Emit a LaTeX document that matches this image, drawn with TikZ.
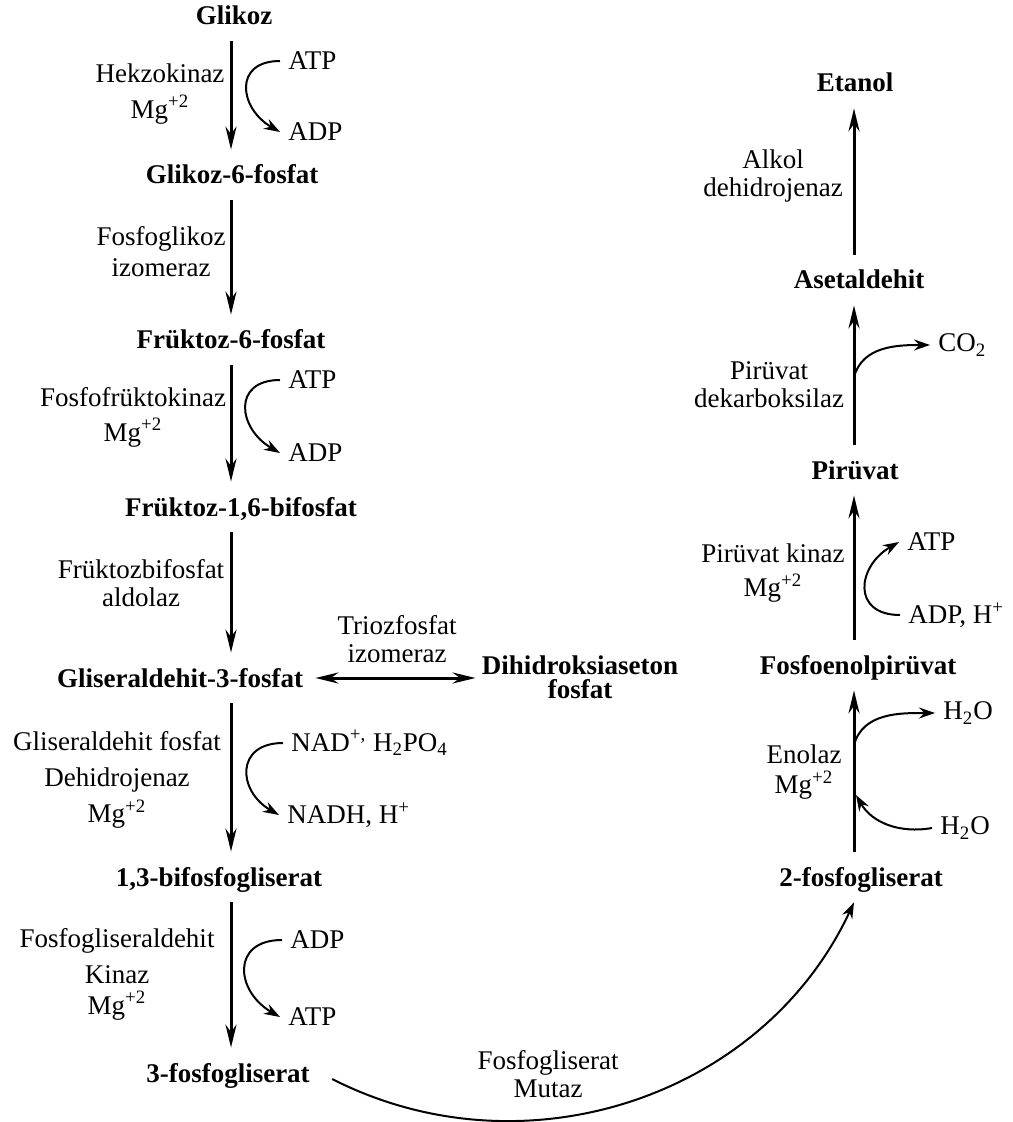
\documentclass[tikz,border=0pt]{standalone}
\usepackage{fontspec}
\setmainfont{Liberation Serif}
\usetikzlibrary{arrows, arrows.meta}
\newcommand{\diagfont}{\fontsize{13.5}{14}\selectfont}
\tikzstyle{metabolite} = [font=\diagfont\bfseries,
text height=9.5pt,
text depth=0.5pt,
inner xsep=3pt,
inner ysep=7.5pt]
\tikzstyle{metabolite2} = [font=\diagfont\bfseries,
align=center,
inner sep=3pt]
\tikzstyle{enzyme} = [font=\diagfont,
align=center,
inner sep=0pt]
\tikzstyle{side} = [font=\diagfont,
anchor=west,
inner xsep=4pt,
inner ysep=1pt]
\tikzstyle{arrow} = [line width=1.5pt,
-{Stealth[length=11.5pt,width=5.5pt]}]
\tikzstyle{darrow} = [line width=1.5pt,
{Stealth[length=11.5pt,width=5.5pt]}-{Stealth[length=11.5pt,width=5.5pt]}]
\tikzstyle{curvearrow} = [line width=1pt,
-{Stealth[length=8pt,width=5.5pt]}]

\begin{document}
\begin{tikzpicture}[x=0.5pt, y=0.5pt]
			
			\useasboundingbox (0,0) rectangle (1012,-1122);
			\coordinate (lcol) at (231,0);
			\coordinate (rcol) at (854,0);
			
			\node (glc) [metabolite] at (234,-16) {Glikoz};
			\node (g6p) [metabolite] at (232,-175) {Glikoz-6-fosfat};
			\node (f6p) [metabolite] at (231,-340) {Früktoz-6-fosfat};
			\node (f16bp) [metabolite] at (241,-507) {Früktoz-1,6-bifosfat};
			\node (g3p) [metabolite] at (180,-678) {Gliseraldehit-3-fosfat};
			\node (dhap) [metabolite2] at (580,-677) {Dihidroksiaseton\\[-2pt]fosfat};
			\node (bpg) [metabolite] at (219,-877) {1,3-bifosfogliserat};
			\node (pg3) [metabolite] at (228,-1073) {3-fosfogliserat};
			
			\node (etoh) [metabolite] at (855,-83) {Etanol};
			\node (acal) [metabolite] at (859,-280) {Asetaldehit};
			\node (pyr) [metabolite] at (855,-470) {Pirüvat};
			\node (pep) [metabolite] at (858,-665) {Fosfoenolpirüvat};
			\node (pg2) [metabolite] at (861,-877) {2-fosfogliserat};
			
			\node (hk) [enzyme] at (160,-94) {Hekzokinaz\\[4pt]Mg\textsuperscript{+2}};
			\node (pgi) [enzyme] at (161,-252) {Fosfoglikoz\\[1.5pt]izomeraz};
			\node (pfk) [enzyme] at (133,-417) {Fosfofrüktokinaz\\[3.5pt]Mg\textsuperscript{+2}};
			\node (ald) [enzyme] at (141,-583) {Früktozbifosfat\\aldolaz};
			\node (tpi) [enzyme] at (397,-639) {Triozfosfat\\izomeraz};
			\node (gapdh) [enzyme] at (117,-780) {Gliseraldehit fosfat\\[4pt]Dehidrojenaz\\[2.5pt]Mg\textsuperscript{+2}};
			\node (pgk) [enzyme] at (117,-974) {Fosfogliseraldehit\\[4pt]Kinaz\\[1.5pt]Mg\textsuperscript{+2}};
			\node (pgm) [enzyme] at (548,-1074) {Fosfogliserat\\Mutaz};
			\node (adh) [enzyme] at (773,-176) {Alkol\\dehidrojenaz};
			\node (pdc) [enzyme] at (769,-385) {Pirüvat\\dekarboksilaz};
			\node (pk) [enzyme] at (773,-573) {Pirüvat kinaz\\[3pt]Mg\textsuperscript{+2}};
			\node (eno) [enzyme] at (804,-772) {Enolaz\\[1pt]Mg\textsuperscript{+2}};
			
			\node (atp1) [side] at (280,-61) {ATP};
			\node (adp1) [side] at (280,-132) {ADP};
			\node (atp2) [side] at (280,-380) {ATP};
			\node (adp2) [side] at (280,-453) {ADP};
			\node (nad) [side] at (283,-743) {NAD\textsuperscript{+,} H\textsubscript{2}PO\textsubscript{4}};
			\node (nadh) [side] at (279,-815) {NADH, H\textsuperscript{+}};
			\node (adp3) [side] at (282,-940) {ADP};
			\node (atp3) [side] at (280,-1017) {ATP};
			\node (co2) [side] at (930,-345) {CO\textsubscript{2}};
			\node (atp4) [side] at (899,-542) {ATP};
			\node (adph) [side] at (900,-615) {ADP, H\textsuperscript{+}};
			\node (h2o1) [side] at (935,-713) {H\textsubscript{2}O};
			\node (h2o2) [side] at (932,-828) {H\textsubscript{2}O};
			
			\coordinate (pdcout) at (854,-377);
			\coordinate (enoout) at (854,-745);
			\coordinate (enoin) at (856,-795);
			
			\draw [arrow] (glc.south -| lcol) -- (g6p.north -| lcol);
			\draw [arrow] (g6p.south -| lcol) -- (f6p.north -| lcol);
			\draw [arrow] (f6p.south -| lcol) -- (f16bp.north -| lcol);
			\draw [arrow] (f16bp.south -| lcol) -- (g3p.north -| lcol);
			\draw [arrow] (g3p.south -| lcol) -- (bpg.north -| lcol);
			\draw [arrow] (bpg.south -| lcol) -- (pg3.north -| lcol);
			\draw [darrow, shorten <=3pt] (g3p.east) -- (dhap.west |- g3p.east);
			
			\draw [arrow] (pg2.north -| rcol) -- (pep.south -| rcol);
			\draw [arrow] (pep.north -| rcol) -- (pyr.south -| rcol);
			\draw [arrow] (pyr.north -| rcol) -- (acal.south -| rcol);
			\draw [arrow] (acal.north -| rcol) -- (etoh.south -| rcol);
			
			\draw [curvearrow] (atp1.west) to[out=180, in=150, looseness=1.7] (adp1.west);
			\draw [curvearrow] (atp2.west) to[out=180, in=150, looseness=1.7] (adp2.west);
			\draw [curvearrow] (nad.west) to[out=180, in=150, looseness=1.7] (nadh.west);
			\draw [curvearrow] (adp3.west) to[out=180, in=150, looseness=1.7] (atp3.west);
			\draw [curvearrow] (adph.west) to[out=180, in=210, looseness=1.7] (atp4.west);
			\draw [curvearrow] (pdcout) to[out=75, in=180] (co2.west);
			\draw [curvearrow] (enoout) to[out=75, in=180] (h2o1.west);
			\draw [curvearrow] (h2o2.west) to[out=190, in=-60] (enoin);
			\draw [curvearrow] ([xshift=8pt,yshift=-3pt]pg3.east) to[out=-27, in=-115] (pg2.south -| rcol);
			
\end{tikzpicture}
\end{document}
